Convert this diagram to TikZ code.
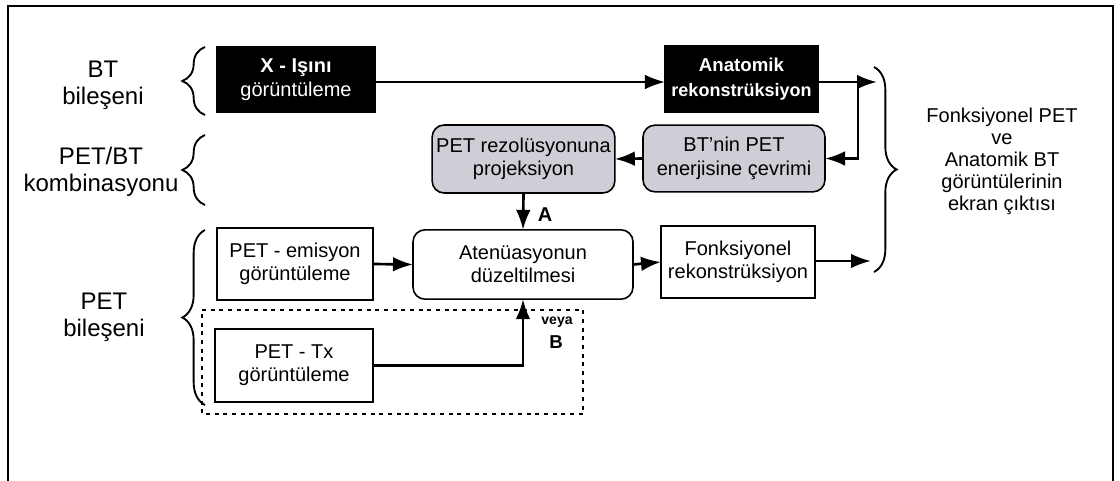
\documentclass[tikz,border=0pt]{standalone}
\usepackage{fontspec}
\setmainfont{Liberation Sans}
\usetikzlibrary{arrows.meta,decorations.pathreplacing}
\definecolor{boxgray}{RGB}{206,206,214}
\begin{document}
\begin{tikzpicture}[x=0.75pt,y=-0.75pt,
  every node/.style={inner sep=0pt,outer sep=0pt,align=center},
  txt/.style={font=\fontsize{15pt}{17.5pt}\selectfont},
  lbl/.style={font=\fontsize{18pt}{20pt}\selectfont},
  blackbox/.style={draw=black,fill=black,text=white,line width=0.8pt},
  plainbox/.style={draw=black,fill=white,line width=1.2pt,txt},
  roundbox/.style={draw=black,rounded corners=9pt,line width=1.2pt,txt},
  graybox/.style={roundbox,fill=boxgray},
  conn/.style={line width=2pt,-{Latex[length=15pt,width=11pt]}},
  brc/.style={line width=1.4pt,decorate,decoration={brace,amplitude=17pt,aspect=0.5}},
  dashbox/.style={line width=1pt,dash pattern=on 3pt off 3.5pt}
]
\useasboundingbox (0,0) rectangle (1120,481);
\fill[white] (0,0) rectangle (1120,481);
% frame
\draw[line width=1.3pt] (8,481) -- (8,6) -- (1113,6) -- (1113,481);

% left labels
\node[lbl] (lbt) at (103,85) {BT\\bileşeni};
\node[lbl] (lpetbt) at (101,172) {PET/BT\\kombinasyonu};
\node[lbl] (lpet) at (104,317) {PET\\bileşeni};

% braces
\draw[brc] (205,115) -- (205,47);
\draw[brc] (205,205) -- (205,135);
\draw[brc] (205,405) -- (205,230);
\draw[brc] (874,67) -- (874,272);

% dashed region
\draw[dashbox] (202,310) -- (583,310) -- (583,414) -- (202,414) -- cycle;

% boxes
\node[blackbox,minimum width=118.5pt,minimum height=50pt,
      font=\fontsize{15pt}{18pt}\selectfont] (xray) at (296,79.5)
  {\textbf{X - Işını}\\görüntüleme};
\node[blackbox,minimum width=115pt,minimum height=49.5pt,
      font=\fontsize{14pt}{18pt}\selectfont\bfseries] (anat) at (741.5,79)
  {Anatomik\\[1pt]{\fontsize{13.5pt}{18pt}\selectfont rekonstrüksiyon}};
\node[graybox,minimum width=137pt,minimum height=51pt] (pet) at (523.5,159)
  {PET rezolüsyonuna\\projeksiyon};
\node[graybox,minimum width=136.5pt,minimum height=50pt] (btn) at (734,158.5)
  {BT’nin PET\\enerjisine çevrimi};
\node[plainbox,minimum width=117pt,minimum height=54pt] (emis) at (295,264)
  {PET - emisyon\\görüntüleme};
\node[roundbox,minimum width=165pt,minimum height=52pt] (aten) at (523,264.5)
  {Atenüasyonun\\düzeltilmesi};
\node[plainbox,minimum width=115.5pt,minimum height=54pt] (fonk) at (738,262)
  {Fonksiyonel\\rekonstrüksiyon};
\node[plainbox,minimum width=118.5pt,minimum height=55pt] (tx) at (294,365.5)
  {PET - Tx\\görüntüleme};

% right text
\node[font=\fontsize{15pt}{16.5pt}\selectfont] (out) at (1002,161)
  {Fonksiyonel PET\\ve\\Anatomik BT\\görüntülerinin\\ekran çıktısı};

% connectors
\coordinate (rb1) at (877,82);
\coordinate (rb2) at (871,261);
\coordinate (j) at (858,82);
\draw[conn,line width=1.4pt] (xray.east |- 0,82) -- (anat.west |- 0,82);
\draw[conn] (anat.east |- rb1) -- (rb1);
\draw[conn] (j) |- (btn.east);
\draw[conn] (btn.west) -- (pet.east);
\draw[conn] (pet.south) -- (aten.north);
\draw[conn] (emis.east) -- (aten.west);
\draw[conn] (aten.east) -- (fonk.west);
\draw[conn] (fonk.east |- rb2) -- (rb2);
\draw[conn] (tx.east) -| (aten.south);

% labels
\node[font=\fontsize{15pt}{15pt}\selectfont\bfseries] (la) at (545,215) {A};
\node[font=\fontsize{10.5pt}{10.5pt}\selectfont\bfseries] (lveya) at (557,322) {veya};
\node[font=\fontsize{14pt}{14pt}\selectfont\bfseries] (lb) at (556,342) {B};
\end{tikzpicture}
\end{document}
